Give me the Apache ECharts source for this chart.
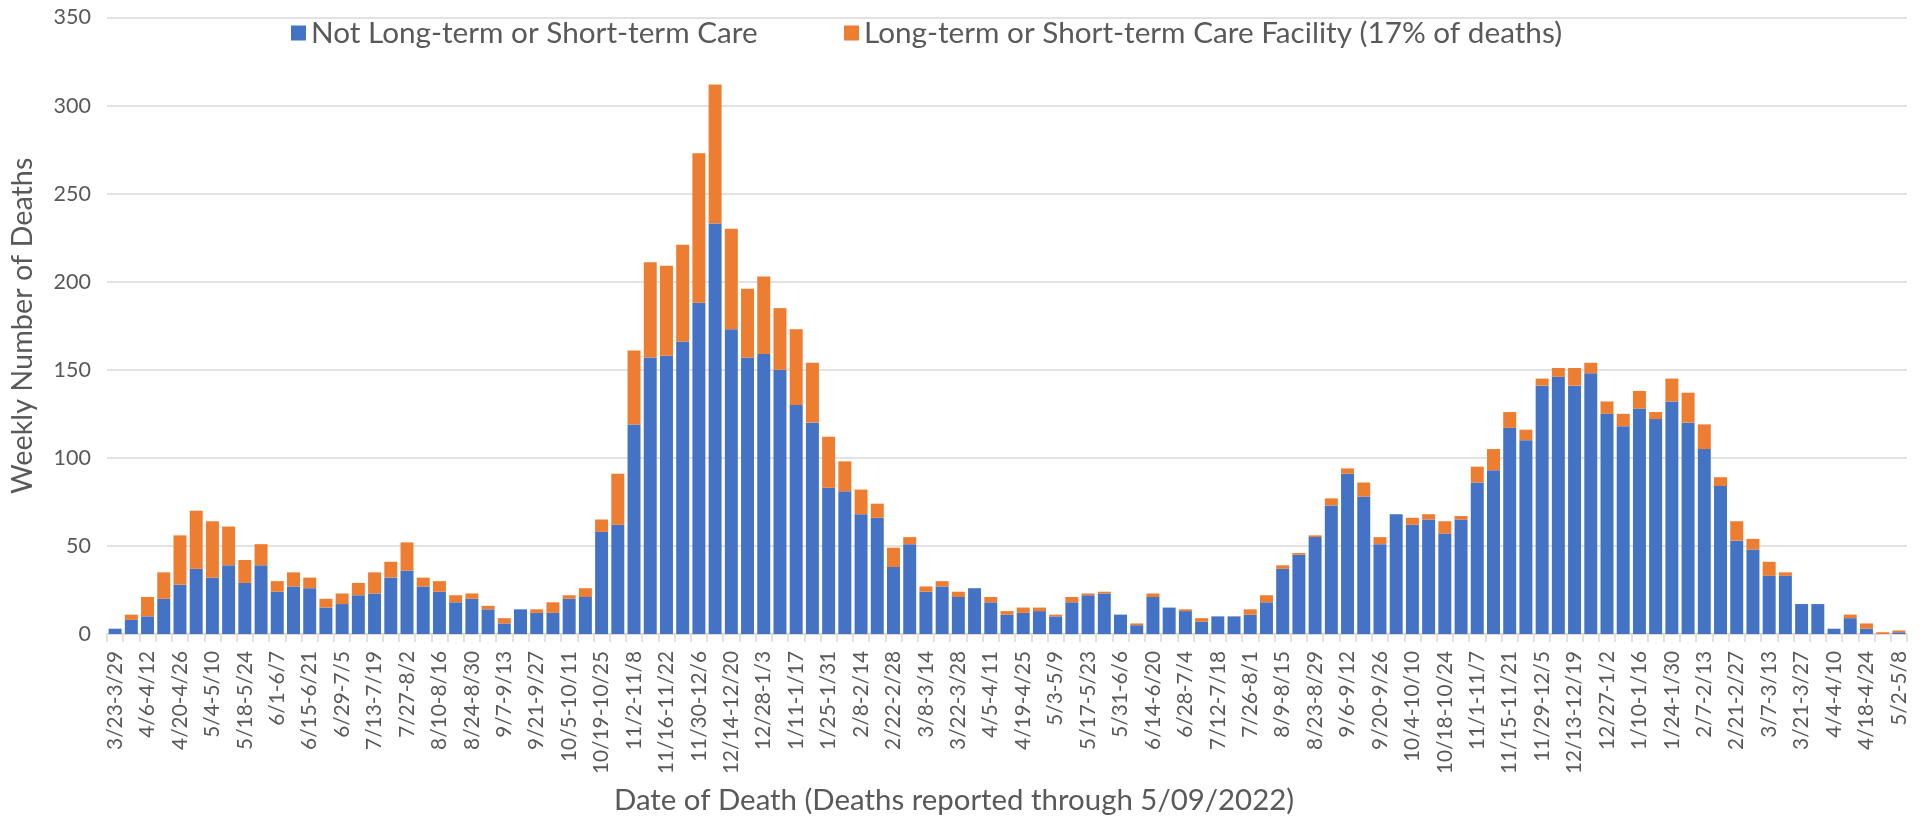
<!DOCTYPE html>
<html>
<head>
<meta charset="utf-8">
<script src="https://cdn.jsdelivr.net/npm/echarts@6/dist/echarts.min.js"></script>
<style>
html,body{margin:0;padding:0;background:#fff;}
#chart{width:1923px;height:828px;}
</style>
</head>
<body>
<div id="chart"></div>
<script>
const categories = [
'3/23-3/29','3/30-4/5','4/6-4/12','4/13-4/19','4/20-4/26','4/27-5/3','5/4-5/10','5/11-5/17','5/18-5/24','5/25-5/31',
'6/1-6/7','6/8-6/14','6/15-6/21','6/22-6/28','6/29-7/5','7/6-7/12','7/13-7/19','7/20-7/26','7/27-8/2','8/3-8/9',
'8/10-8/16','8/17-8/23','8/24-8/30','8/31-9/6','9/7-9/13','9/14-9/20','9/21-9/27','9/28-10/4','10/5-10/11','10/12-10/18',
'10/19-10/25','10/26-11/1','11/2-11/8','11/9-11/15','11/16-11/22','11/23-11/29','11/30-12/6','12/7-12/13','12/14-12/20','12/21-12/27',
'12/28-1/3','1/4-1/10','1/11-1/17','1/18-1/24','1/25-1/31','2/1-2/7','2/8-2/14','2/15-2/21','2/22-2/28','3/1-3/7',
'3/8-3/14','3/15-3/21','3/22-3/28','3/29-4/4','4/5-4/11','4/12-4/18','4/19-4/25','4/26-5/2','5/3-5/9','5/10-5/16',
'5/17-5/23','5/24-5/30','5/31-6/6','6/7-6/13','6/14-6/20','6/21-6/27','6/28-7/4','7/5-7/11','7/12-7/18','7/19-7/25',
'7/26-8/1','8/2-8/8','8/9-8/15','8/16-8/22','8/23-8/29','8/30-9/5','9/6-9/12','9/13-9/19','9/20-9/26','9/27-10/3',
'10/4-10/10','10/11-10/17','10/18-10/24','10/25-10/31','11/1-11/7','11/8-11/14','11/15-11/21','11/22-11/28','11/29-12/5','12/6-12/12',
'12/13-12/19','12/20-12/26','12/27-1/2','1/3-1/9','1/10-1/16','1/17-1/23','1/24-1/30','1/31-2/6','2/7-2/13','2/14-2/20',
'2/21-2/27','2/28-3/6','3/7-3/13','3/14-3/20','3/21-3/27','3/28-4/3','4/4-4/10','4/11-4/17','4/18-4/24','4/25-5/1',
'5/2-5/8'
];

const notCare = [
3,8,10,20,28,37,32,39,29,39,
24,27,26,15,17,22,23,32,36,27,
24,18,20,14,6,14,12,12,20,21,
58,62,119,157,158,166,188,233,173,157,
159,150,130,120,83,81,68,66,38,51,
24,27,21,26,18,11,12,13,10,18,
22,23,11,5,21,15,13,7,10,10,
11,18,37,45,55,73,91,78,51,68,
62,65,57,65,86,93,117,110,141,146,
141,148,125,118,128,122,132,120,105,84,
53,48,33,33,17,17,3,9,3,0,
1
];

const careFacility = [
0,3,11,15,28,33,32,22,13,12,
6,8,6,5,6,7,12,9,16,5,
6,4,3,2,3,0,2,6,2,5,
7,29,42,54,51,55,85,79,57,39,
44,35,43,34,29,17,14,8,11,4,
3,3,3,0,3,2,3,2,1,3,
1,1,0,1,2,0,1,2,0,0,
3,4,2,1,1,4,3,8,4,0,
4,3,7,2,9,12,9,6,4,5,
10,6,7,7,10,4,13,17,14,5,
11,6,8,2,0,0,0,2,3,1,
1
];

const seriesNames = ['Not Long-term or Short-term Care', 'Long-term or Short-term Care Facility (17% of deaths)'];
const yAxisTitle = 'Weekly Number of Deaths';
const xAxisTitle = 'Date of Death (Deaths reported through 5/09/2022)';

const FONT = 'Lato, "Open Sans", sans-serif';
const TXT = '#595959';

const chart = echarts.init(document.getElementById('chart'), null, {renderer: 'canvas'});
chart.setOption({
  animation: false,
  backgroundColor: '#ffffff',
  grid: {left: 107, right: 16, top: 17.5, bottom: 194, containLabel: false},
  legend: [
    {
      data: [seriesNames[0]], left: 291, top: 18, padding: 0, icon: 'rect',
      itemWidth: 15, itemHeight: 15, itemGap: 10,
      textStyle: {fontFamily: FONT, fontSize: 29.7, color: TXT}
    },
    {
      data: [seriesNames[1]], left: 844, top: 18, padding: 0, icon: 'rect',
      itemWidth: 15, itemHeight: 15, itemGap: 10,
      textStyle: {fontFamily: FONT, fontSize: 29.7, color: TXT}
    }
  ],
  graphic: [{
    type: 'text', x: 954, y: 801,
    style: {
      text: xAxisTitle, fontFamily: FONT, fontSize: 29.4, fill: TXT,
      align: 'center', verticalAlign: 'middle',
      textAlign: 'center', textVerticalAlign: 'middle'
    }
  }],
  xAxis: {
    type: 'category',
    data: categories,
    boundaryGap: true,
    axisLine: {show: true, lineStyle: {color: '#D9D9D9', width: 1.5}},
    axisTick: {show: true, interval: 0, alignWithLabel: false, length: 8, lineStyle: {color: '#D9D9D9', width: 1.5}},
    axisLabel: {interval: 1, rotate: 90, margin: 17, fontFamily: FONT, fontSize: 20.8, color: TXT},
    splitLine: {show: false}
  },
  yAxis: {
    type: 'value',
    min: 0, max: 350, interval: 50,
    name: yAxisTitle,
    nameLocation: 'middle',
    nameGap: 70,
    nameTextStyle: {fontFamily: FONT, fontSize: 28.8, color: TXT},
    axisLine: {show: false},
    axisTick: {show: false},
    axisLabel: {margin: 16, fontFamily: FONT, fontSize: 21.5, color: TXT},
    splitLine: {lineStyle: {color: '#D9D9D9', width: 1.5}}
  },
  series: [
    {
      name: seriesNames[0], type: 'bar', stack: 'deaths', data: notCare,
      barCategoryGap: '20%',
      itemStyle: {color: '#4472C4'}
    },
    {
      name: seriesNames[1], type: 'bar', stack: 'deaths', data: careFacility,
      barCategoryGap: '20%',
      itemStyle: {color: '#ED7D31'}
    }
  ]
});
</script>
</body>
</html>
